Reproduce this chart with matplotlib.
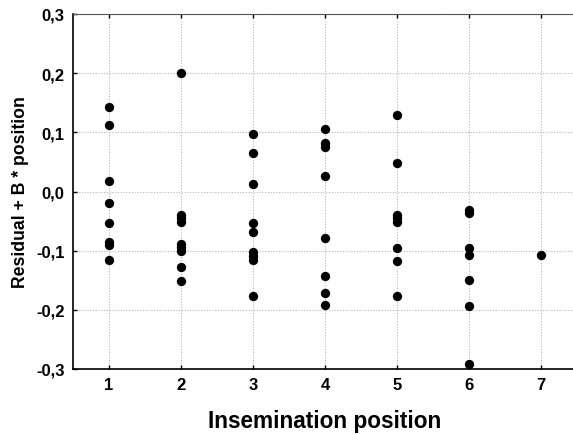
import matplotlib
matplotlib.use("Agg")
import matplotlib.pyplot as plt
from matplotlib.ticker import FuncFormatter, MultipleLocator

plt.rcParams['font.family'] = ['Liberation Sans', 'DejaVu Sans']

# residual + B * position, per insemination position
pos1 = [0.142, 0.113, 0.017, -0.020, -0.054, -0.086, -0.090, -0.115]
pos2 = [0.200, -0.040, -0.045, -0.051, -0.089, -0.094, -0.101, -0.128, -0.152]
pos3 = [0.097, 0.065, 0.012, -0.054, -0.069, -0.103, -0.109, -0.116, -0.176]
pos4 = [0.106, 0.082, 0.076, 0.027, -0.079, -0.143, -0.172, -0.191]
pos5 = [0.129, 0.048, -0.039, -0.045, -0.052, -0.096, -0.117, -0.176]
pos6 = [-0.032, -0.037, -0.096, -0.108, -0.150, -0.194, -0.292]
pos7 = [-0.108]
groups = [pos1, pos2, pos3, pos4, pos5, pos6, pos7]
xticks = [1, 2, 3, 4, 5, 6, 7]

fig = plt.figure(figsize=(5.73, 4.35), dpi=100)
ax = fig.add_axes([73/573, 1-370/435, (577-73)/573, (370-15)/435])

for x, vals in zip(xticks, groups):
    ax.scatter([x]*len(vals), vals, s=45, color='black', zorder=3, linewidths=0)

ax.set_xlim(0.5, 7.5)
ax.set_ylim(-0.3, 0.3)
ax.set_xticks(xticks)
ax.yaxis.set_major_locator(MultipleLocator(0.1))
ax.yaxis.set_major_formatter(FuncFormatter(lambda v, p: f"{v:.1f}".replace('.', ',').replace('-0,0', '0,0')))

ax.grid(True, color='#b8b8b8', linestyle=(0, (1, 1.5)), linewidth=0.8)
ax.tick_params(direction='in', length=3, width=1, top=True, labelsize=12, pad=6)
for lab in ax.get_xticklabels() + ax.get_yticklabels():
    lab.set_fontweight('bold')

ax.spines['right'].set_visible(False)
ax.spines['top'].set_color('#555555')
for s in ['left', 'bottom']:
    ax.spines[s].set_linewidth(1.2)

ax.set_xlabel('Insemination position', fontsize=16.3, fontweight='bold', labelpad=12)
ax.set_ylabel('Residual + B * position', fontsize=12.7, fontweight='bold', labelpad=5)

fig.savefig('out.png', dpi=100)
